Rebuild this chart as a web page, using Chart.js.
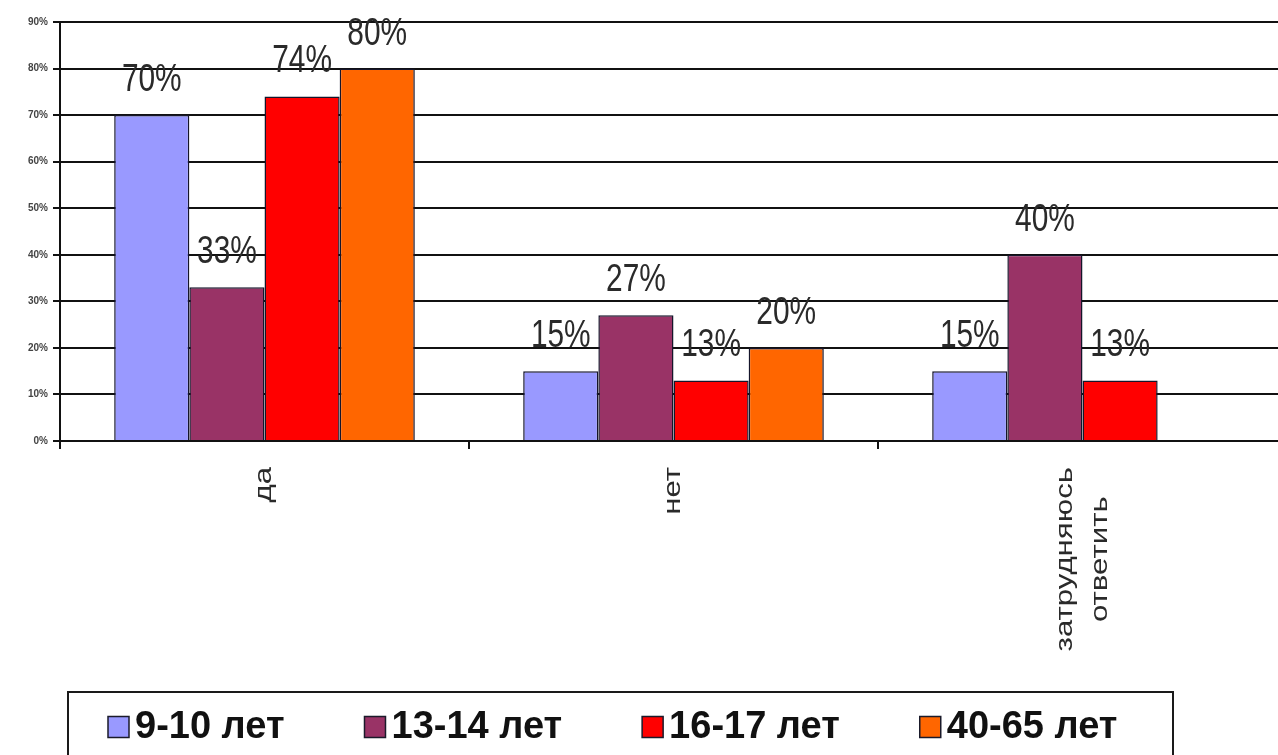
<!DOCTYPE html>
<html>
<head>
<meta charset="utf-8">
<script src="https://cdn.jsdelivr.net/npm/chart.js@4.4.1/dist/chart.umd.min.js"></script>
<style>
  html, body { margin: 0; padding: 0; background: #fff; overflow: hidden; }
  #wrap { width: 1290px; height: 755px; }
</style>
</head>
<body>
<div id="wrap"><canvas id="c" width="1290" height="755"></canvas></div>
<script>
const categories = ['да', 'нет', ['затрудняюсь', 'ответить']];
const seriesNames = ['9-10 лет', '13-14 лет', '16-17 лет', '40-65 лет'];
const age9_10 = [70, 15, 15];
const age13_14 = [33, 27, 40];
const age16_17 = [74, 13, 13];
const age40_65 = [80, 20, null];
const seriesColors = ['#9999FF', '#993366', '#FF0000', '#FF6600'];
const yTicks = [0, 10, 20, 30, 40, 50, 60, 70, 80, 90];

const seriesValues = [age9_10, age13_14, age16_17, age40_65];

const valueLabels = {
  id: 'valueLabels',
  afterDatasetsDraw(chart) {
    const ctx = chart.ctx;
    chart.data.datasets.forEach((ds, i) => {
      const meta = chart.getDatasetMeta(i);
      meta.data.forEach((bar, j) => {
        const v = ds.data[j];
        if (v === null || v === undefined) return;
        ctx.save();
        ctx.translate(bar.x, bar.y - 24);
        ctx.scale(1.03, 1.35);
        ctx.font = '29px "Liberation Sans", Arial, sans-serif';
        ctx.fillStyle = '#2a2a2a';
        ctx.textAlign = 'center';
        ctx.textBaseline = 'alphabetic';
        ctx.fillText(v + '%', 0, 0);
        ctx.restore();
      });
    });
  }
};

// category labels drawn at the x scale's tick positions, rotated and stretched like the original
const categoryLabels = {
  id: 'categoryLabels',
  afterDraw(chart) {
    const ctx = chart.ctx;
    const xs = chart.scales.x;
    const stretch = 1.3;
    const lineGap = 35;
    const topY = chart.chartArea.bottom + 26;
    ctx.save();
    ctx.font = '24px "Liberation Sans", Arial, sans-serif';
    ctx.fillStyle = '#2a2a2a';
    ctx.textAlign = 'center';
    ctx.textBaseline = 'middle';
    chart.data.labels.forEach((lab, i) => {
      const lines = Array.isArray(lab) ? lab : [lab];
      const cx = xs.getPixelForTick(i);
      const maxW = Math.max(...lines.map(l => ctx.measureText(l).width)) * stretch;
      const cy = topY + maxW / 2;
      lines.forEach((l, k) => {
        const lx = cx + (k - (lines.length - 1) / 2) * lineGap;
        ctx.save();
        ctx.translate(lx, cy);
        ctx.rotate(-Math.PI / 2);
        ctx.scale(stretch, 1);
        ctx.fillText(l, 0, 0);
        ctx.restore();
      });
    });
    ctx.restore();
  }
};

const boxedLegend = {
  id: 'boxedLegend',
  afterDraw(chart) {
    const ctx = chart.ctx;
    const left = 68, right = 1173, top = 692, bottom = 762;
    ctx.save();
    ctx.strokeStyle = '#1a1a1a';
    ctx.lineWidth = 2;
    ctx.strokeRect(left, top, right - left, bottom - top);
    ctx.font = 'bold 38px "Liberation Sans", Arial, sans-serif';
    ctx.textBaseline = 'middle';
    ctx.textAlign = 'left';
    let x = 108;
    const cy = 727;
    const sq = 21;
    chart.data.datasets.forEach((ds) => {
      ctx.fillStyle = ds.backgroundColor;
      ctx.fillRect(x, cy - sq / 2, sq, sq);
      ctx.strokeStyle = '#1a1a2a';
      ctx.lineWidth = 1.5;
      ctx.strokeRect(x, cy - sq / 2, sq, sq);
      ctx.fillStyle = '#111';
      const tx = x + sq + 6;
      ctx.fillText(ds.label, tx, cy + 1);
      x = tx + ctx.measureText(ds.label).width + 80;
    });
    ctx.restore();
  }
};

new Chart(document.getElementById('c'), {
  type: 'bar',
  data: {
    labels: categories,
    datasets: seriesNames.map((name, i) => ({
      label: name,
      data: seriesValues[i],
      backgroundColor: seriesColors[i],
      borderColor: '#15152a',
      borderWidth: 1.5,
      categoryPercentage: 0.735,
      barPercentage: 1.0
    }))
  },
  options: {
    responsive: false,
    animation: false,
    layout: { padding: { top: 22, right: 3, left: 0, bottom: 0 } },
    plugins: {
      legend: { display: false },
      tooltip: { enabled: false }
    },
    scales: {
      x: {
        grid: {
          offset: true,
          drawOnChartArea: false,
          drawTicks: true,
          tickLength: 8,
          color: '#111',
          lineWidth: 2
        },
        border: { display: true, color: '#111', width: 2 },
        ticks: {
          display: false
        },
        afterFit(scale) { scale.height = 314; }
      },
      y: {
        min: 0,
        max: 90,
        afterBuildTicks(scale) { scale.ticks = yTicks.map(v => ({ value: v })); },
        grid: {
          color: '#111',
          lineWidth: 2,
          drawTicks: true,
          tickLength: 7
        },
        border: { display: true, color: '#111', width: 2 },
        ticks: {
          padding: 5,
          color: '#444',
          font: { family: '"Liberation Sans", Arial, sans-serif', size: 10, weight: 'bold' },
          callback: (v) => v + '%'
        },
        afterFit(scale) { scale.width = 60; }
      }
    }
  },
  plugins: [valueLabels, categoryLabels, boxedLegend]
});
</script>
</body>
</html>
